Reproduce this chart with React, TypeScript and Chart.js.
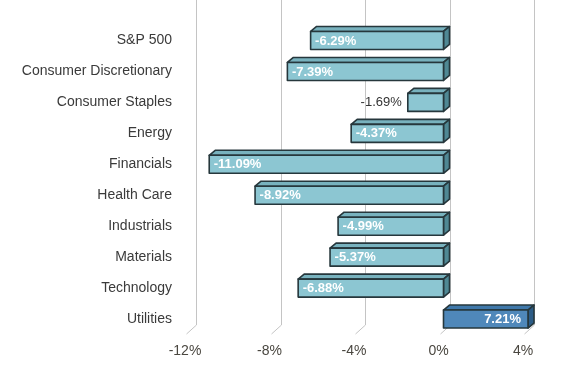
import React, { useEffect, useRef } from "react";
import { Chart, registerables } from "chart.js";

Chart.register(...registerables);

const categories = [
  "S&P 500",
  "Consumer Discretionary",
  "Consumer Staples",
  "Energy",
  "Financials",
  "Health Care",
  "Industrials",
  "Materials",
  "Technology",
  "Utilities",
];
const values = [-6.29, -7.39, -1.69, -4.37, -11.09, -8.92, -4.99, -5.37, -6.88, 7.21];
const xMin = -12;
const xMax = 4;
const xStep = 4;

const FONT = "'Liberation Sans', Arial, sans-serif";
const DX = 6;
const DY = 5;

const negColors = { front: "#8cc6d2", top: "#78b2be", side: "#4f8894" };
const posColors = { front: "#4f88ba", top: "#3f78aa", side: "#2c5c86" };
const edge = "#26373c";

const gridPlugin = {
  id: "grid3d",
  beforeDatasetsDraw(chart: any) {
    const { ctx, chartArea, scales } = chart;
    const xs = scales.x;
    const bottom = chartArea.bottom - 9.5;
    ctx.save();
    ctx.strokeStyle = "#c4c4c4";
    ctx.lineWidth = 1;
    xs.ticks.forEach((t: any) => {
      const px = Math.round(xs.getPixelForValue(t.value)) + 0.5;
      ctx.beginPath();
      ctx.moveTo(px, 0);
      ctx.lineTo(px, bottom);
      ctx.lineTo(px - 10, bottom + 9);
      ctx.stroke();
    });
    ctx.restore();
  },
};

const bar3dPlugin = {
  id: "bar3d",
  afterDatasetsDraw(chart: any) {
    const { ctx, chartArea } = chart;
    const meta = chart.getDatasetMeta(0);
    ctx.save();
    meta.data.forEach((el: any, i: number) => {
      const v = values[i];
      const c = v >= 0 ? posColors : negColors;
      const x = Math.min(Math.max(el.x, chartArea.left), chartArea.right);
      const base = el.base;
      const h = el.height;
      const left = Math.min(x, base) - DX;
      const right = Math.max(x, base) - DX;
      const top = el.y - h / 2;
      const bot = el.y + h / 2;
      ctx.lineJoin = "round";
      ctx.lineWidth = 1.6;
      ctx.strokeStyle = edge;
      // top face
      ctx.beginPath();
      ctx.moveTo(left, top);
      ctx.lineTo(left + DX, top - DY);
      ctx.lineTo(right + DX, top - DY);
      ctx.lineTo(right, top);
      ctx.closePath();
      ctx.fillStyle = c.top;
      ctx.fill();
      ctx.stroke();
      // side face
      ctx.beginPath();
      ctx.moveTo(right, top);
      ctx.lineTo(right + DX, top - DY);
      ctx.lineTo(right + DX, bot - DY);
      ctx.lineTo(right, bot);
      ctx.closePath();
      ctx.fillStyle = c.side;
      ctx.fill();
      ctx.stroke();
      // front face
      ctx.beginPath();
      ctx.rect(left, top, right - left, bot - top);
      ctx.fillStyle = c.front;
      ctx.fill();
      ctx.stroke();

      // label
      const text = v.toFixed(2) + "%";
      ctx.font = `bold 13px ${FONT}`;
      const tw = ctx.measureText(text).width;
      ctx.textBaseline = "middle";
      const ty = el.y + 0.5;
      if (v < 0) {
        if (right - left > tw + 10) {
          ctx.fillStyle = "#ffffff";
          ctx.textAlign = "left";
          ctx.fillText(text, left + 4.5, ty);
        } else {
          ctx.font = `13px ${FONT}`;
          ctx.fillStyle = "#333333";
          ctx.textAlign = "right";
          ctx.fillText(text, left - 6, ty);
        }
      } else {
        ctx.fillStyle = "#ffffff";
        ctx.textAlign = "right";
        ctx.fillText(text, right - 7, ty);
      }
    });
    ctx.restore();
  },
};

export default function App() {
  const ref = useRef<HTMLCanvasElement | null>(null);
  useEffect(() => {
    if (!ref.current) return;
    const chart = new Chart(ref.current, {
      type: "bar",
      data: {
        labels: categories,
        datasets: [
          {
            data: values,
            backgroundColor: "rgba(0,0,0,0)",
            borderWidth: 0,
            barThickness: 18,
          },
        ],
      },
      options: {
        indexAxis: "y",
        animation: false,
        responsive: true,
        maintainAspectRatio: false,
        layout: { padding: { top: 25, right: 29, left: 0, bottom: 0 } },
        plugins: { legend: { display: false }, tooltip: { enabled: false } },
        scales: {
          x: {
            type: "linear",
            min: xMin,
            max: xMax,
            grid: { display: false, drawTicks: false },
            border: { display: false },
            ticks: {
              stepSize: xStep,
              callback: (v: any) => v + "%",
              font: { family: FONT, size: 14 },
              color: "#4a4740",
              labelOffset: -11,
              padding: 8,
              maxRotation: 0,
            },
            afterFit: (s: any) => {
              s.height = 40.5;
              s.paddingLeft = 0;
              s.paddingRight = 0;
            },
          },
          y: {
            grid: { display: false, drawTicks: false },
            border: { display: false },
            ticks: {
              font: { family: FONT, size: 14 },
              color: "#3a3a3a",
              padding: 24,
            },
            afterFit: (s: any) => {
              s.width = 196;
              s.paddingTop = 0;
              s.paddingBottom = 0;
            },
          },
        },
      },
      plugins: [gridPlugin, bar3dPlugin],
    });
    return () => chart.destroy();
  }, []);
  return (
    <div style={{ position: "absolute", left: 0, top: 0, width: 563, height: 375, background: "#fff" }}>
      <canvas ref={ref} />
    </div>
  );
}
